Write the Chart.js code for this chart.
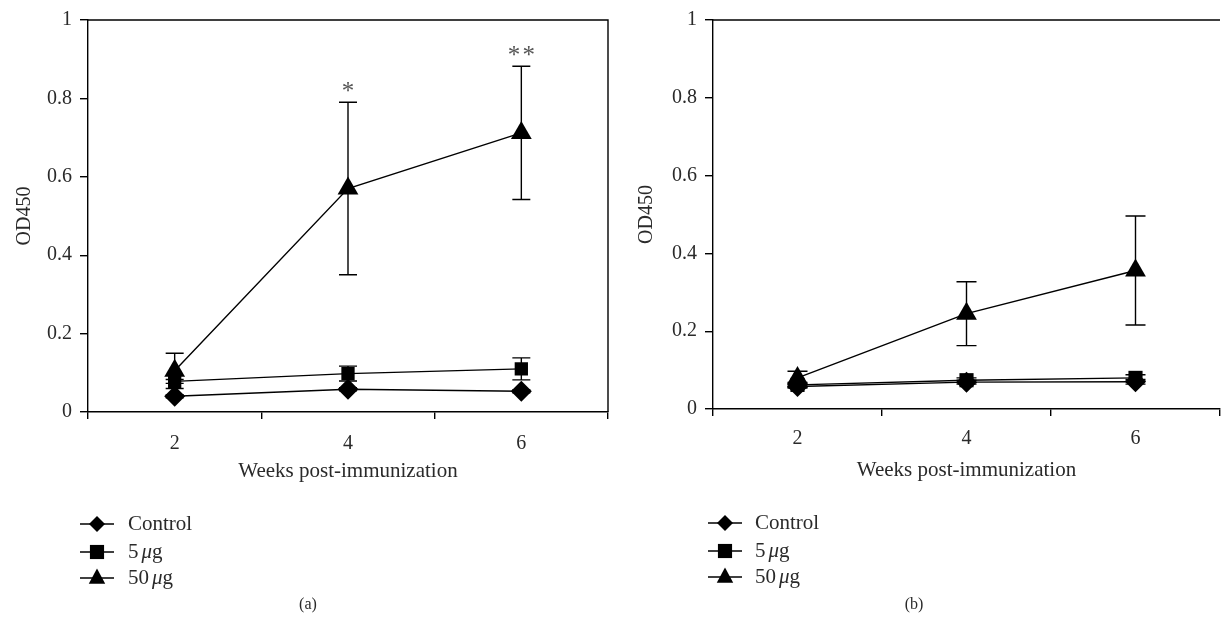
<!DOCTYPE html>
<html><head><meta charset="utf-8">
<script src="https://cdn.jsdelivr.net/npm/chart.js@4.4.1/dist/chart.umd.min.js"></script>
<style>
html,body{margin:0;padding:0;background:#fff;overflow:hidden;width:1221px;height:631px;position:relative;}
canvas{position:absolute;top:0;}
#ca{left:0;} #cb{left:620px;}
</style></head><body>
<canvas id="ca" width="620" height="631"></canvas>
<canvas id="cb" width="612" height="631"></canvas>
<script>
// ---- data ----
const weeks = ['2', '4', '6'];
const seriesNames = ['Control', '5 μg', '50 μg'];
const yTickLabels = ['0', '0.2', '0.4', '0.6', '0.8', '1'];
const xTitle = 'Weeks post-immunization';
const yTitle = 'OD450';
const captions = ['(a)', '(b)'];

// Panel (a)
const controlA = [0.040, 0.058, 0.053];
const controlAErr = [0.004, 0.004, 0.004];
const lowA = [0.078, 0.098, 0.110];
const lowAErr = [0.005, 0.019, 0.028];
const highA = [0.105, 0.570, 0.712];
const highAErr = [0.045, 0.220, 0.170];
const sigA = ['', '*', '**'];

// Panel (b)
const controlB = [0.058, 0.069, 0.070];
const controlBErr = [0.004, 0.005, 0.006];
const lowB = [0.062, 0.074, 0.080];
const lowBErr = [0.006, 0.006, 0.008];
const highB = [0.080, 0.245, 0.356];
const highBErr = [0.017, 0.082, 0.140];
const sigB = ['', '', ''];

// ---- styling ----
const FAMILY = "'Liberation Serif', 'Times New Roman', serif";
const TEXT = '#2a2a2a';
const LW = 1.4;
Chart.defaults.font.family = FAMILY;
Chart.defaults.color = TEXT;

function markerPath(ctx, style, r, x, y) {
  ctx.beginPath();
  if (style === 'triangle') {
    ctx.moveTo(x, y - r);
    ctx.lineTo(x + r * 0.866, y + r * 0.6);
    ctx.lineTo(x - r * 0.866, y + r * 0.6);
  } else if (style === 'rect') {
    const s = r * Math.SQRT1_2;
    ctx.rect(x - s, y - s, 2 * s, 2 * s);
  } else {
    ctx.moveTo(x - r, y); ctx.lineTo(x, y - r); ctx.lineTo(x + r, y); ctx.lineTo(x, y + r);
  }
  ctx.closePath();
}

const errorBarPlugin = {
  id: 'errorBars',
  beforeDatasetsDraw(chart, args, opts) {
    const ctx = chart.ctx, xs = chart.scales.x, ys = chart.scales.y;
    ctx.save();
    ctx.strokeStyle = '#000';
    ctx.lineWidth = LW;
    chart.data.datasets.forEach(ds => {
      ds.data.forEach((v, i) => {
        const e = ds.errors[i];
        const x = xs.getPixelForValue(i);
        const yt = ys.getPixelForValue(v + e), yb = ys.getPixelForValue(v - e);
        ctx.beginPath();
        ctx.moveTo(x, yt); ctx.lineTo(x, yb);
        ctx.moveTo(x - opts.cap, yt); ctx.lineTo(x + opts.cap, yt);
        ctx.moveTo(x - opts.cap, yb); ctx.lineTo(x + opts.cap, yb);
        ctx.stroke();
      });
    });
    ctx.restore();
  },
  afterDatasetsDraw(chart, args, opts) {
    const ctx = chart.ctx, xs = chart.scales.x, ys = chart.scales.y;
    ctx.save();
    ctx.fillStyle = '#555';
    ctx.font = '25px ' + FAMILY;
    ctx.textAlign = 'center';
    ctx.textBaseline = 'alphabetic';
    chart.data.datasets.forEach(ds => {
      if (!ds.sig) return;
      ds.sig.forEach((s, i) => {
        if (!s) return;
        const x = xs.getPixelForValue(i);
        const yt = ys.getPixelForValue(ds.data[i] + ds.errors[i]);
        ctx.fillText(s.split('').join('\u200A'), x, yt - 3);
      });
    });
    ctx.restore();
  }
};

const framePlugin = {
  id: 'frame',
  afterDraw(chart, args, opts) {
    const ctx = chart.ctx, a = chart.chartArea;
    ctx.save();
    ctx.strokeStyle = '#000';
    ctx.lineWidth = LW;
    ctx.beginPath();
    ctx.moveTo(a.left, a.top); ctx.lineTo(a.right, a.top);
    if (opts.right) ctx.lineTo(a.right, a.bottom);
    ctx.stroke();
    ctx.restore();
  }
};

const legendPlugin = {
  id: 'sideLegend',
  afterDraw(chart, args, o) {
    const ctx = chart.ctx;
    ctx.save();
    chart.data.datasets.forEach((ds, i) => {
      const y = o.rows[i];
      ctx.strokeStyle = '#000'; ctx.lineWidth = LW;
      ctx.beginPath(); ctx.moveTo(o.x0, y); ctx.lineTo(o.x1, y); ctx.stroke();
      ctx.fillStyle = '#000';
      markerPath(ctx, ds.pointStyle, o.radii[i], o.mx, y);
      ctx.fill();
      ctx.fillStyle = TEXT;
      ctx.textBaseline = 'middle';
      ctx.textAlign = 'left';
      let tx = o.tx;
      ds.label.split(/(μ| )/).forEach(p => {
        if (!p) return;
        if (p === ' ') { tx += o.size * 0.14; return; }
        ctx.font = (p === 'μ' ? 'italic ' : '') + o.size + 'px ' + FAMILY;
        ctx.fillText(p, tx, y);
        tx += ctx.measureText(p).width;
      });
    });
    ctx.font = o.capSize + 'px ' + FAMILY;
    ctx.textAlign = 'center';
    ctx.fillText(o.caption, o.capX, o.capY);
    ctx.restore();
  }
};

function makeChart(id, cfg) {
  const styles = ['rectRot', 'rect', 'triangle'];
  const vals = [cfg.control, cfg.low, cfg.high];
  const errs = [cfg.controlErr, cfg.lowErr, cfg.highErr];
  const sigs = [null, null, cfg.sig];
  const datasets = vals.map((v, i) => ({
    label: seriesNames[i],
    data: v,
    errors: errs[i],
    sig: sigs[i],
    borderColor: '#000',
    borderWidth: LW,
    backgroundColor: '#000',
    pointStyle: styles[i],
    pointRadius: cfg.radii[i],
    pointHoverRadius: cfg.radii[i],
    pointBackgroundColor: '#000',
    pointBorderColor: '#000',
    pointBorderWidth: 0,
    tension: 0,
    fill: false
  }));
  return new Chart(document.getElementById(id), {
    type: 'line',
    data: { labels: weeks, datasets },
    options: {
      responsive: false,
      animation: false,
      devicePixelRatio: 1,
      events: [],
      layout: { padding: cfg.padding },
      plugins: {
        legend: { display: false },
        tooltip: { enabled: false },
        errorBars: { cap: cfg.cap },
        frame: { right: cfg.frameRight },
        sideLegend: cfg.legend
      },
      scales: {
        x: {
          type: 'category',
          offset: true,
          afterFit: s => { s.height = cfg.xHeight; },
          grid: { offset: true, drawOnChartArea: false, drawTicks: true, tickLength: 7, color: '#000', lineWidth: LW },
          border: { color: '#000', width: LW },
          ticks: { padding: cfg.xTickPad, color: TEXT, font: { size: 20, family: FAMILY } },
          title: { display: true, text: xTitle, color: TEXT, font: { size: 21, family: FAMILY }, padding: { top: 0, bottom: 0 } }
        },
        y: {
          min: 0, max: 1,
          afterFit: s => { s.width = cfg.yWidth; },
          grid: { drawOnChartArea: false, drawTicks: true, tickLength: 8, color: '#000', lineWidth: LW },
          border: { color: '#000', width: LW },
          ticks: { stepSize: 0.2, padding: 8, color: TEXT, font: { size: 20, family: FAMILY },
                   callback: (v, i) => yTickLabels[i] },
          title: { display: true, text: yTitle, color: TEXT, font: { size: 20, family: FAMILY }, padding: { top: cfg.yTitlePad, bottom: 0 } }
        }
      }
    },
    plugins: [errorBarPlugin, framePlugin, legendPlugin]
  });
}

makeChart('ca', {
  control: controlA, controlErr: controlAErr, low: lowA, lowErr: lowAErr, high: highA, highErr: highAErr, sig: sigA,
  radii: [10.5, 9.4, 12], cap: 9,
  padding: { left: 0, top: 15, right: 10, bottom: 147 },
  xHeight: 72, yWidth: 88, xTickPad: 13, yTitlePad: 13, frameRight: true,
  legend: { x0: 80, x1: 114, mx: 97, tx: 128, rows: [524, 552, 578], radii: [8, 10, 9.5], size: 21,
            caption: captions[0], capX: 308, capY: 605, capSize: 16 }
});

makeChart('cb', {
  control: controlB, controlErr: controlBErr, low: lowB, lowErr: lowBErr, high: highB, highErr: highBErr, sig: sigB,
  radii: [10.5, 10, 12], cap: 10,
  padding: { left: 0, top: 12, right: 6, bottom: 148 },
  xHeight: 74, yWidth: 93, xTickPad: 11, yTitlePad: 15, frameRight: false,
  legend: { x0: 88, x1: 122, mx: 105, tx: 135, rows: [523, 551, 577], radii: [8, 10, 9.5], size: 21,
            caption: captions[1], capX: 294, capY: 605, capSize: 16 }
});
</script>
</body></html>
